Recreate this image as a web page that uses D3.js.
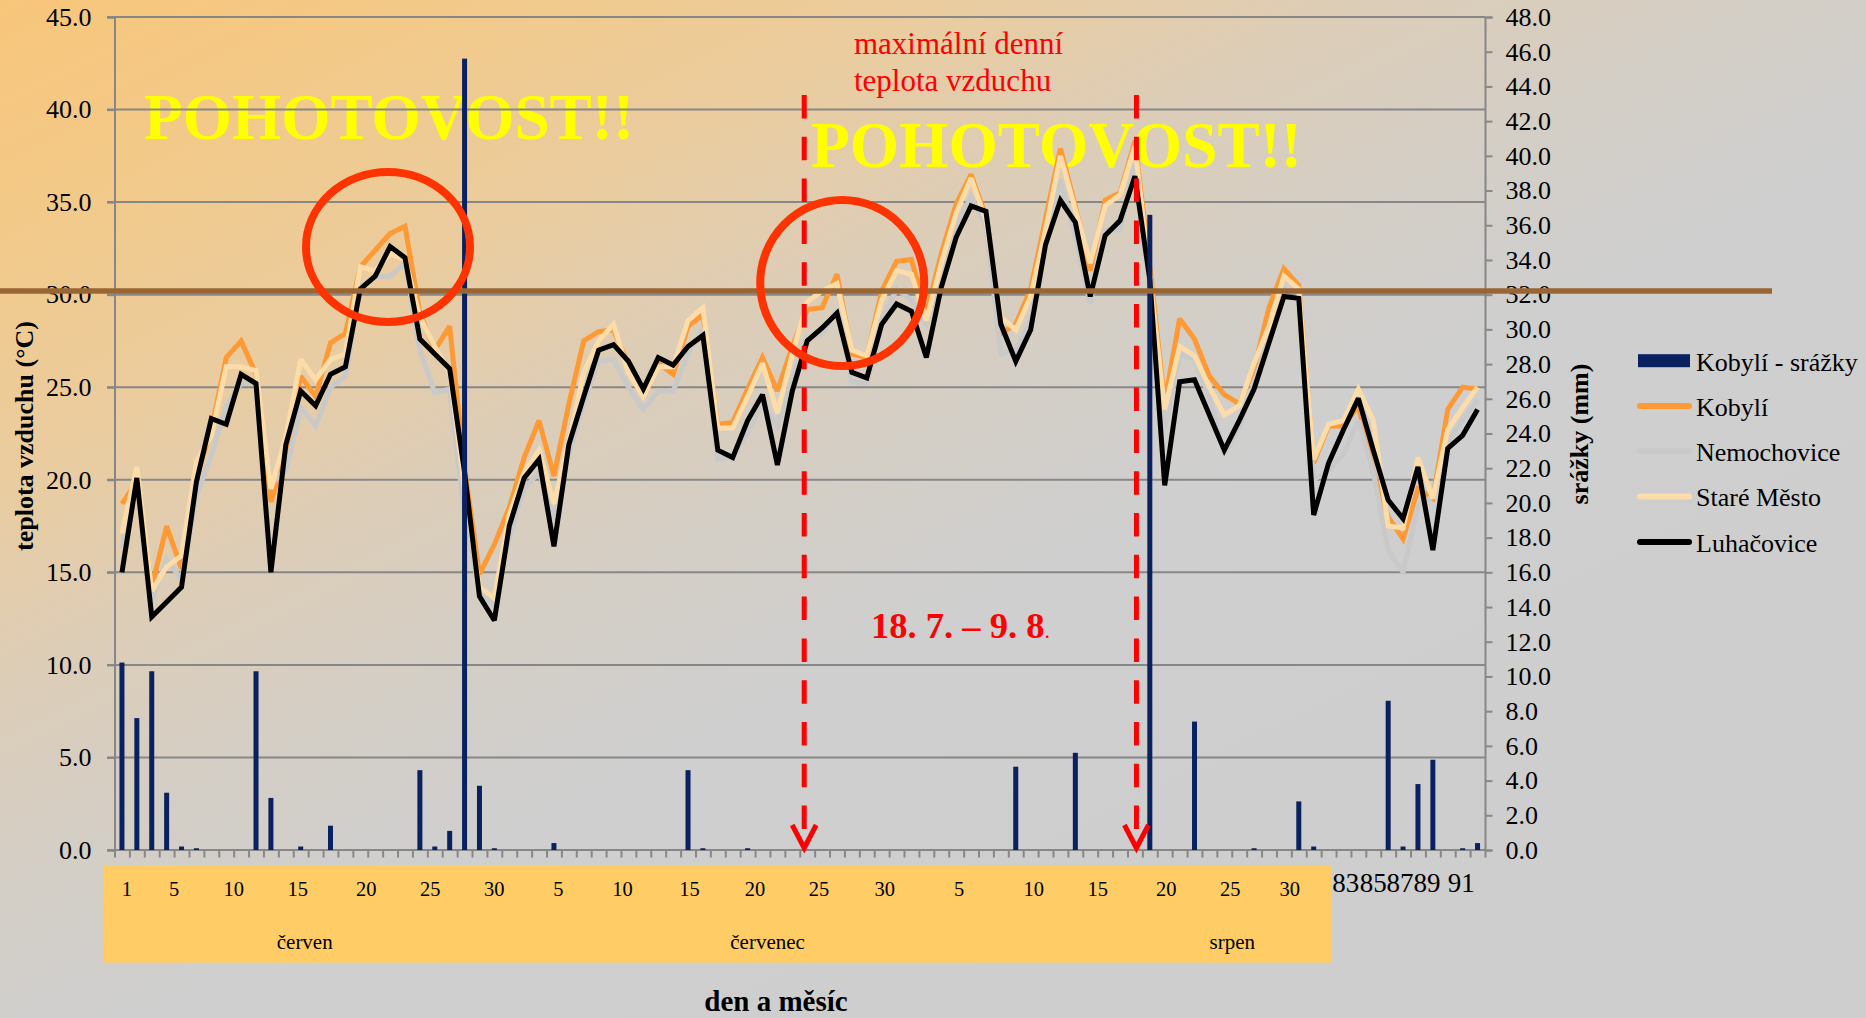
<!DOCTYPE html>
<html lang="cs">
<head>
<meta charset="utf-8">
<script src="https://cdn.jsdelivr.net/npm/d3@7/dist/d3.min.js"></script>
<style>
  html, body { margin: 0; padding: 0; background: #cecece; }
  svg { display: block; font-family: "Liberation Serif", "Times New Roman", serif; }
</style>
</head>
<body>
<svg id="chart" width="1866" height="1018"></svg>
<script>
// Days of the season: 1 June – 31 August (92 days)
const days = d3.range(1, 93);

// Daily precipitation, Kobylí (mm, right axis)
const kobyliRain = [
  10.8, 7.6, 10.3, 3.3, 0.2, 0.1, 0, 0, 0, 10.3,
  3.0, 0, 0.2, 0, 1.4, 0, 0, 0, 0, 0,
  4.6, 0.2, 1.1, 45.6, 3.7, 0.1, 0, 0, 0, 0.4,
  0, 0, 0, 0, 0, 0, 0, 0, 4.6, 0.1,
  0, 0, 0.1, 0, 0, 0, 0, 0, 0, 0,
  0, 0, 0, 0, 0, 0, 0, 0, 0, 0,
  4.8, 0, 0, 0, 5.6, 0, 0, 0, 0, 36.6,
  0, 0, 7.4, 0, 0, 0, 0.1, 0, 0, 2.8,
  0.2, 0, 0, 0, 0, 8.6, 0.2, 3.8, 5.2, 0,
  0.1, 0.4
];

// Daily maximum air temperature (°C, left axis)
const kobyli = [
  18.7, 19.9, 14.2, 17.5, 15.2, 20.2, 22.7, 26.6, 27.5, 25.7,
  18.8, 21.4, 25.6, 24.5, 27.4, 27.9, 31.5, 32.4, 33.3, 33.7,
  29.0, 27.0, 28.3, 20.6, 14.9, 16.5, 18.5, 21.2, 23.2, 20.2,
  24.1, 27.5, 28.0, 28.1, 26.2, 24.9, 26.3, 25.7, 28.3, 28.9,
  23.0, 23.1, 24.9, 26.6, 24.8, 27.2, 29.2, 29.3, 31.1, 26.8,
  26.6, 30.2, 31.8, 31.9, 29.0, 32.2, 34.9, 36.5, 34.2, 27.9,
  28.4, 30.3, 34.1, 37.9, 34.8, 31.3, 35.1, 35.5, 38.3, 31.5,
  24.2, 28.7, 27.6, 25.6, 24.6, 24.1, 26.0, 29.3, 31.4, 30.5,
  20.9, 22.9, 22.9, 24.0, 20.4, 18.0, 16.8, 19.5, 19.0, 23.8,
  25.0, 24.9
];
const nemochovice = [
  16.3, 20.2, 13.5, 15.7, 14.6, 19.1, 21.3, 24.0, 25.2, 25.3,
  19.8, 20.5, 23.9, 22.9, 25.0, 25.6, 30.4, 31.0, 31.0, 31.7,
  27.0, 24.7, 24.9, 18.0, 14.0, 13.2, 16.9, 19.5, 20.4, 17.9,
  21.4, 24.1, 26.4, 26.5, 25.0, 23.8, 24.8, 24.8, 26.8, 28.2,
  21.1, 21.3, 22.5, 24.1, 22.9, 25.5, 27.7, 27.9, 29.2, 25.3,
  25.2, 28.6, 30.3, 29.7, 28.4, 31.0, 33.8, 35.3, 33.7, 26.8,
  27.0, 28.6, 33.0, 36.2, 33.1, 29.5, 33.5, 33.5, 37.1, 30.5,
  22.8, 26.8, 26.5, 24.5, 21.4, 22.8, 25.2, 27.7, 30.3, 30.1,
  20.0, 20.5, 21.4, 23.2, 20.4, 16.2, 15.0, 18.6, 19.1, 22.1,
  23.2, 24.3
];
const stareMesto = [
  17.1, 20.7, 14.0, 15.3, 15.9, 21.0, 22.4, 26.1, 26.1, 25.9,
  19.5, 22.3, 26.5, 25.4, 26.5, 26.8, 31.5, 31.3, 32.2, 31.9,
  28.8, 27.2, 25.8, 19.5, 14.2, 13.6, 18.1, 20.4, 21.6, 18.7,
  22.1, 25.8, 27.5, 28.4, 25.8, 24.5, 26.1, 26.1, 28.6, 29.3,
  22.8, 22.8, 24.5, 26.3, 23.6, 26.8, 29.6, 30.2, 30.6, 27.0,
  26.7, 29.7, 31.3, 31.1, 28.6, 31.7, 34.4, 36.3, 34.0, 28.8,
  28.1, 29.9, 33.5, 37.5, 34.6, 31.7, 34.8, 35.4, 38.0, 31.0,
  23.8, 27.2, 26.7, 25.0, 23.5, 24.0, 26.3, 28.3, 31.0, 30.3,
  21.1, 23.0, 23.2, 24.9, 23.2, 17.5, 17.4, 21.2, 19.0, 22.7,
  23.9, 25.0
];
const luhacovice = [
  15.0, 20.1, 12.6, 13.4, 14.2, 19.9, 23.3, 23.0, 25.7, 25.2,
  15.0, 21.9, 24.8, 24.0, 25.7, 26.1, 30.3, 31.0, 32.6, 32.0,
  27.6, 26.8, 26.0, 20.4, 13.7, 12.4, 17.5, 20.1, 21.1, 16.4,
  21.9, 24.5, 27.0, 27.3, 26.4, 24.9, 26.6, 26.2, 27.2, 27.8,
  21.6, 21.2, 23.2, 24.6, 20.8, 24.8, 27.5, 28.2, 29.0, 25.8,
  25.5, 28.4, 29.5, 29.1, 26.6, 30.4, 33.1, 34.8, 34.5, 28.4,
  26.4, 28.1, 32.7, 35.1, 33.9, 29.9, 33.2, 34.0, 36.4, 30.8,
  19.7, 25.3, 25.4, 23.5, 21.6, 23.2, 24.9, 27.4, 29.9, 29.8,
  18.1, 20.9, 22.7, 24.4, 21.6, 18.9, 17.9, 20.7, 16.2, 21.7,
  22.4, 23.8
];

// Axis ticks
const tempTicks = d3.range(0, 46, 5);
const rainTicks = d3.range(0, 49, 2);

// Category-axis labels (day numbers) and the day slot each one sits on
const dayLabels   = ["1", "5", "10", "15", "20", "25", "30", "5", "10", "15", "20", "25", "30", "5", "10", "15", "20", "25", "30"];
const dayLabelAt  = [1.33, 4.5, 8.5, 12.8, 17.4, 21.7, 26.0, 30.3, 34.6, 39.1, 43.5, 47.8, 52.2, 57.2, 62.2, 66.5, 71.1, 75.4, 79.4];
const tailLabels  = ["83", "85", "87", "89", "91"];
const tailLabelAt = [83.15, 85.0, 86.8, 88.6, 90.9];
const months      = ["červen", "červenec", "srpen"];
const monthAt     = [13.27, 44.34, 75.54];

// Heat-alert period and threshold
const alertFrom = 46.8, alertTo = 69.1;   // 18. 7. and 9. 8.
const heatThreshold = 30.2;

const series = [
  { name: "Kobylí",      values: kobyli,      color: "#ff9933", width: 5 },
  { name: "Nemochovice", values: nemochovice, color: "#c9c9c9", width: 5 },
  { name: "Staré Město", values: stareMesto,  color: "#fcdca9", width: 5 },
  { name: "Luhačovice",  values: luhacovice,  color: "#000000", width: 5 }
];

// ---------------------------------------------------------------
const W = 1866, H = 1018;
const plot = { left: 114.5, right: 1485, top: 17, bottom: 850 };
const svg = d3.select("#chart");

// Slide background: warm orange in the top-left fading to grey
const defs = svg.append("defs");
const bg = defs.append("linearGradient")
  .attr("id", "bg").attr("gradientUnits", "userSpaceOnUse")
  .attr("x1", 0).attr("y1", 0).attr("x2", 600).attr("y2", 1200);
[[0, "#f8c67b"], [0.14, "#f3c987"], [0.32, "#eacc9f"], [0.46, "#dccdb8"],
 [0.6, "#d3cec6"], [0.72, "#cfcfcf"], [1, "#cecece"]]
  .forEach(([o, c]) => bg.append("stop").attr("offset", o).attr("stop-color", c));
svg.append("rect").attr("width", W).attr("height", H).attr("fill", "url(#bg)");

// Scales
const x = d3.scaleLinear().domain([0.5, 92.5]).range([plot.left, plot.right]);
const yT = d3.scaleLinear().domain([0, 45]).range([plot.bottom, plot.top]);
const yR = d3.scaleLinear().domain([0, 48]).range([plot.bottom, plot.top]);

// Alert captions behind the chart
const alertText = svg.append("g")
  .attr("fill", "#ffff00").attr("font-weight", "bold").attr("font-size", 66);
alertText.append("text").attr("x", 144).attr("y", 138.5)
  .attr("textLength", 490).attr("lengthAdjust", "spacingAndGlyphs").text("POHOTOVOST!!");
alertText.append("text").attr("x", 811).attr("y", 166.5)
  .attr("textLength", 491).attr("lengthAdjust", "spacingAndGlyphs").text("POHOTOVOST!!");

// Category label band
svg.append("rect")
  .attr("x", 103.6).attr("y", 866).attr("width", 1332 - 103.6).attr("height", 96.7)
  .attr("fill", "#ffcc66");

// Horizontal gridlines
const gridColor = "#878787";
svg.append("g").selectAll("line").data(tempTicks).join("line")
  .attr("x1", plot.left - 7.5).attr("x2", plot.right)
  .attr("y1", d => yT(d)).attr("y2", d => yT(d))
  .attr("stroke", gridColor).attr("stroke-width", 2);

// Left axis
const axL = svg.append("g").attr("transform", `translate(${plot.left},0)`)
  .call(d3.axisLeft(yT).tickValues(tempTicks).tickFormat(d3.format(".1f"))
    .tickSize(7.5).tickPadding(15.5));
axL.select(".domain").attr("stroke", gridColor).attr("stroke-width", 2);
axL.selectAll(".tick line").attr("stroke", gridColor).attr("stroke-width", 2);
axL.selectAll(".tick text").attr("font-family", "Liberation Serif").attr("font-size", 26)
  .attr("fill", "#000");

// Right axis
const axR = svg.append("g").attr("transform", `translate(${plot.right},0)`)
  .call(d3.axisRight(yR).tickValues(rainTicks).tickFormat(d3.format(".1f"))
    .tickSize(7.5).tickPadding(13));
axR.select(".domain").attr("stroke", gridColor).attr("stroke-width", 2);
axR.selectAll(".tick line").attr("stroke", gridColor).attr("stroke-width", 2);
axR.selectAll(".tick text").attr("font-family", "Liberation Serif").attr("font-size", 26)
  .attr("fill", "#000");

// Bottom axis: one tick between every pair of days
const axB = svg.append("g").attr("transform", `translate(0,${plot.bottom})`)
  .call(d3.axisBottom(x).tickValues(d3.range(0.5, 93, 1)).tickFormat("").tickSize(7.5));
axB.select(".domain").remove();
axB.selectAll(".tick line").attr("stroke", gridColor).attr("stroke-width", 2);

// Day labels
svg.append("g").attr("font-size", 20.5).attr("text-anchor", "middle")
  .selectAll("text").data(dayLabels).join("text")
  .attr("x", (d, i) => x(dayLabelAt[i])).attr("y", 896).text(d => d);
svg.append("g").attr("font-size", 27).attr("text-anchor", "middle")
  .selectAll("text").data(tailLabels).join("text")
  .attr("x", (d, i) => x(tailLabelAt[i])).attr("y", 892).text(d => d);
svg.append("g").attr("font-size", 21).attr("text-anchor", "middle")
  .selectAll("text").data(months).join("text")
  .attr("x", (d, i) => x(monthAt[i])).attr("y", 949).text(d => d);

// Temperature lines
const line = d3.line().x((d, i) => x(days[i])).y(d => yT(d));
svg.append("g").selectAll("path").data(series).join("path")
  .attr("d", d => line(d.values))
  .attr("fill", "none").attr("stroke", d => d.color).attr("stroke-width", d => d.width)
  .attr("stroke-linejoin", "miter").attr("stroke-miterlimit", 2.5);

// Precipitation columns (secondary axis, drawn on top)
const barW = 5;
svg.append("g").selectAll("rect").data(kobyliRain).join("rect")
  .attr("x", (d, i) => x(days[i]) - barW / 2).attr("width", barW)
  .attr("y", d => yR(d)).attr("height", d => yR(0) - yR(d))
  .attr("fill", "#0a2160");

// Axis titles
svg.append("text").attr("transform", "translate(33,436) rotate(-90)")
  .attr("text-anchor", "middle").attr("font-weight", "bold").attr("font-size", 26)
  .text("teplota vzduchu (°C)");
svg.append("text").attr("transform", "translate(1588,434) rotate(-90)")
  .attr("text-anchor", "middle").attr("font-weight", "bold").attr("font-size", 26)
  .text("srážky (mm)");
svg.append("text").attr("x", 776).attr("y", 1011)
  .attr("text-anchor", "middle").attr("font-weight", "bold").attr("font-size", 29)
  .text("den a měsíc");

// Legend
const legend = svg.append("g").attr("font-size", 26);
const legendItems = [{ name: "Kobylí - srážky", bar: true }].concat(series);
legendItems.forEach((d, i) => {
  const cy = 360.7 + i * 45.3;
  if (d.bar) {
    legend.append("rect").attr("x", 1638).attr("y", cy - 6.5).attr("width", 52).attr("height", 13)
      .attr("fill", "#0a2160");
  } else {
    legend.append("line").attr("x1", 1640).attr("x2", 1689).attr("y1", cy).attr("y2", cy)
      .attr("stroke", d.color).attr("stroke-width", 6).attr("stroke-linecap", "round");
  }
  legend.append("text").attr("x", 1696).attr("y", cy + 9.8).text(d.name);
});

// Heat threshold line
svg.append("line").attr("x1", 0).attr("x2", 1772)
  .attr("y1", yT(heatThreshold)).attr("y2", yT(heatThreshold))
  .attr("stroke", "#996633").attr("stroke-width", 5.5);

// Alert period: dashed markers with arrowheads
const red = "#ff0000";
[alertFrom, alertTo].forEach(v => {
  const px = x(v);
  svg.append("line").attr("x1", px).attr("x2", px).attr("y1", 95).attr("y2", 846)
    .attr("stroke", red).attr("stroke-width", 5).attr("stroke-dasharray", "23.5 18.3");
  svg.append("path")
    .attr("d", `M${px - 12},${plot.bottom - 25} L${px},${plot.bottom - 2} L${px + 12},${plot.bottom - 25}`)
    .attr("fill", "none").attr("stroke", red).attr("stroke-width", 5);
});

// Highlight ellipses around the heat peaks
[[18.86, 32.58, 82, 75], [49.35, 30.63, 82, 83]].forEach(([cx, cy, rx, ry]) => {
  svg.append("ellipse").attr("cx", x(cx)).attr("cy", yT(cy)).attr("rx", rx).attr("ry", ry)
    .attr("fill", "none").attr("stroke", "#ff3300").attr("stroke-width", 8);
});

// Red captions
const cap = svg.append("g").attr("fill", red);
cap.append("text").attr("x", 854).attr("y", 54).attr("font-size", 31).text("maximální denní");
cap.append("text").attr("x", 854).attr("y", 90.5).attr("font-size", 31).text("teplota vzduchu");
const period = cap.append("text").attr("x", 871).attr("y", 638)
  .attr("font-size", 36.5).attr("font-weight", "bold");
period.append("tspan").text("18. 7. – 9. 8");
period.append("tspan").attr("font-size", 22).attr("font-weight", "normal").text(".");
</script>
</body>
</html>
